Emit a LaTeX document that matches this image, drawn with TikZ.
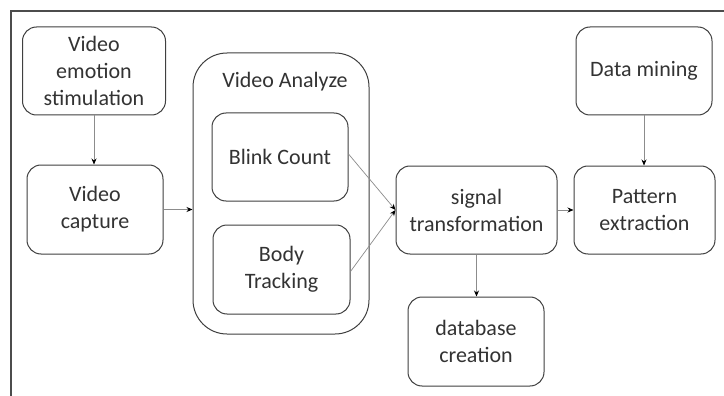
\documentclass[tikz,border=0pt]{standalone}
\usepackage{fontspec}
\setmainfont{Carlito}
\usetikzlibrary{arrows.meta}
\begin{document}
\begin{tikzpicture}[x=1pt,y=-1pt,
  box/.style={draw=black!75,line width=1pt,rounded corners=14pt,align=center,
    inner sep=0pt,text=black!80,font=\fontsize{22}{27}\selectfont},
  conn/.style={draw=black!45,line width=0.7pt,-{Stealth[length=6pt,width=5pt,black]}}]
\useasboundingbox (0,0) rectangle (724,396);
\fill[white] (0,0) rectangle (724,396);
\draw[black!70,line width=1.2pt] (11,396) -- (11,11) -- (724,11);
\node[box,minimum width=143pt,minimum height=88pt] (stim) at (94,71) {Video\\emotion\\stimulation};
\node[box,minimum width=136pt,minimum height=89pt] (cap) at (95,209.5) {Video\\capture};
\node[box,rounded corners=34pt,minimum width=176pt,minimum height=281pt] (outer) at (281,193.5) {};
\node[text=black!80,font=\fontsize{22}{27}\selectfont] (va) at (285,82) {Video Analyze};
\node[box,minimum width=136pt,minimum height=88pt] (blink) at (280,157) {Blink Count};
\node[box,minimum width=137pt,minimum height=89pt] (body) at (281.5,269.5) {Body\\Tracking};
\node[box,minimum width=161pt,minimum height=88pt] (sig) at (476.5,210) {signal\\transformation};
\node[box,minimum width=141pt,minimum height=88pt] (pat) at (644.5,210) {Pattern\\extraction};
\node[box,minimum width=136pt,minimum height=88pt] (dm) at (644,71) {Data mining};
\node[box,minimum width=136pt,minimum height=89pt] (db) at (476,341.5) {database\\creation};
\draw[conn] (stim.south) -- (stim.south |- cap.north);
\draw[conn] (cap.east) -- (outer.west |- cap.east);
\draw[conn] ([yshift=3pt]blink.east) -- (sig.west);
\draw[conn] ([yshift=-2pt]body.east) -- (sig.west);
\draw[conn] (sig.east) -- (pat.west);
\draw[conn] (dm.south) -- (dm.south |- pat.north);
\draw[conn] (sig.south) -- (sig.south |- db.north);
\end{tikzpicture}
\end{document}
